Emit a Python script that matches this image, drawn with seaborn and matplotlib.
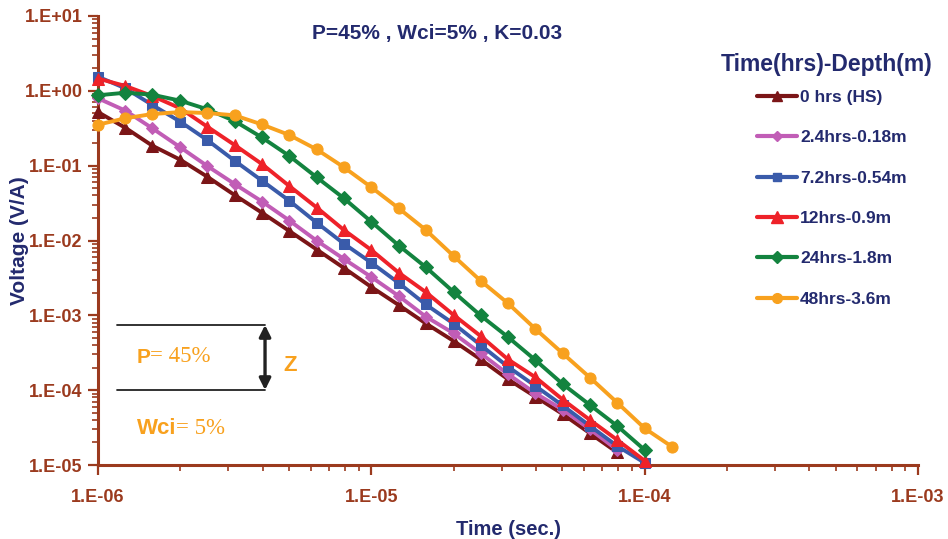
import matplotlib
matplotlib.use("Agg")
import matplotlib.pyplot as plt
import matplotlib.ticker as mticker
from matplotlib.lines import Line2D
import numpy as np
import pandas as pd
import seaborn as sns

# Sampling times (s), ten points per decade
time_s = [1.0e-6, 1.26e-6, 1.58e-6, 2.0e-6, 2.51e-6, 3.16e-6, 3.98e-6, 5.01e-6,
          6.31e-6, 7.94e-6, 1.0e-5, 1.26e-5, 1.58e-5, 2.0e-5, 2.51e-5, 3.16e-5,
          3.98e-5, 5.01e-5, 6.31e-5, 7.94e-5, 1.0e-4, 1.26e-4]

# Voltage responses (V/A) for each time-depth stage
v_0hrs = [0.52, 0.32, 0.185, 0.12, 0.0712, 0.0405, 0.0235, 0.0134, 0.00758, 0.00429,
          0.00239, 0.00137, 0.000782, 0.000454, 0.000258, 0.00014, 8.2e-5, 4.8e-5,
          2.65e-5, 1.47e-5]
v_2p4hrs = [0.795, 0.543, 0.316, 0.176, 0.099, 0.0569, 0.0332, 0.0185, 0.00994, 0.00566,
            0.00325, 0.00181, 0.000964, 0.000575, 0.000311, 0.000164, 9.1e-5, 5.5e-5,
            3.0e-5, 1.59e-5]
v_7p2hrs = [1.545, 1.08, 0.647, 0.387, 0.22, 0.1165, 0.063, 0.034, 0.0173, 0.00906,
            0.00505, 0.0027, 0.0014, 0.000773, 0.000401, 0.000206, 0.000114, 6.24e-5,
            3.32e-5, 1.79e-5, 1.07e-5]
v_12hrs = [1.46, 1.16, 0.853, 0.584, 0.332, 0.189, 0.105, 0.0535, 0.0276, 0.0138,
           0.00746, 0.00371, 0.00205, 0.00101, 0.000529, 0.000258, 0.000149, 7.5e-5,
           3.99e-5, 2.16e-5, 1.14e-5]
v_24hrs = [0.872, 0.944, 0.888, 0.738, 0.567, 0.395, 0.238, 0.135, 0.0699, 0.0366,
           0.0178, 0.00857, 0.00442, 0.00205, 0.000995, 0.000513, 0.000253, 0.000121,
           6.33e-5, 3.32e-5, 1.59e-5]
v_48hrs = [0.353, 0.43, 0.49, 0.52, 0.505, 0.471, 0.355, 0.257, 0.165, 0.0951,
           0.0514, 0.0269, 0.0139, 0.00621, 0.0029, 0.00145, 0.00066, 0.000311,
           0.000147, 6.8e-5, 3.09e-5, 1.75e-5]

series_labels = ["0 hrs (HS)", "2.4hrs-0.18m", "7.2hrs-0.54m",
                 "12hrs-0.9m", "24hrs-1.8m", "48hrs-3.6m"]
series_values = [v_0hrs, v_2p4hrs, v_7p2hrs, v_12hrs, v_24hrs, v_48hrs]
series_colors = ["#7B1517", "#C15DB6", "#3A5BAA", "#EE2229", "#13833F", "#F8A11E"]
series_markers = ["^", "D", "s", "^", "D", "o"]
series_msize = [8, 6, 7, 9, 7, 8]

# Decade tick positions
x_ticks = [1e-6, 1e-5, 1e-4, 1e-3]
y_ticks = [1e-5, 1e-4, 1e-3, 1e-2, 1e-1, 1e0, 1e1]

frames = []
for lab, vals in zip(series_labels, series_values):
    frames.append(pd.DataFrame({"Time": time_s[:len(vals)], "Voltage": vals, "Series": lab}))
df = pd.concat(frames, ignore_index=True)

sns.set_theme(style="white")
plt.rcParams["font.family"] = ["Liberation Sans", "DejaVu Sans"]

navy = "#232A6E"
brown = "#9B3A1E"
orange = "#F8A11E"

fig = plt.figure(figsize=(9.48, 5.39), dpi=100)
ax = fig.add_axes([98 / 948, 1 - 465 / 539, 820 / 948, 449 / 539])

handles = []
for lab, col, mk, ms in zip(series_labels, series_colors, series_markers, series_msize):
    sub = df[df["Series"] == lab]
    sns.lineplot(data=sub, x="Time", y="Voltage", ax=ax, color=col, marker=mk,
                 markersize=ms, markeredgecolor=col, linewidth=2.8, label=lab,
                 legend=False, zorder=3, clip_on=False)
    handles.append(Line2D([0], [0], color=col, marker=mk, markersize=ms - 1,
                          markeredgecolor=col, linewidth=3, label=lab))

ax.set_xscale("log")
ax.set_yscale("log")
ax.set_xlim(1e-6, 1e-3)
ax.set_ylim(1e-5, 1e1)

def sci_fmt(v, pos):
    e = int(round(np.log10(v)))
    return f"1.E{e:+03d}"

ax.xaxis.set_major_locator(mticker.FixedLocator(x_ticks))
ax.yaxis.set_major_locator(mticker.FixedLocator(y_ticks))
for axis in (ax.xaxis, ax.yaxis):
    axis.set_minor_locator(mticker.LogLocator(base=10, subs=np.arange(2, 10), numticks=20))
    axis.set_major_formatter(mticker.FuncFormatter(sci_fmt))
    axis.set_minor_formatter(mticker.NullFormatter())

ax.tick_params(axis="both", which="both", bottom=True, left=True, top=False, right=False)
ax.tick_params(axis="both", which="major", direction="out", length=7, width=1.6,
               color=brown, labelcolor=brown, pad=4)
ax.tick_params(axis="both", which="minor", direction="out", length=4, width=1.2,
               color=brown)
ax.tick_params(axis="x", which="major", pad=10)
for lbl in ax.get_xticklabels() + ax.get_yticklabels():
    lbl.set_fontweight("bold")
    lbl.set_family(["Liberation Sans Narrow", "Liberation Sans"])
    lbl.set_fontsize(13)

for side in ("top", "right"):
    ax.spines[side].set_visible(False)
for side in ("left", "bottom"):
    ax.spines[side].set_color(brown)
    ax.spines[side].set_linewidth(2.2)
ax.grid(False)

ax.set_xlabel("Time (sec.)", fontsize=14.5, fontweight="bold", color=navy)
ax.set_ylabel("Voltage (V/A)", fontsize=15, fontweight="bold", color=navy)
ax.xaxis.set_label_coords(0.5, -0.122)
ax.yaxis.set_label_coords(-0.084, 0.5)

ax.text(0.413, 0.962, "P=45% , Wci=5% , K=0.03", transform=ax.transAxes,
        ha="center", va="center", fontsize=15, fontweight="bold", color=navy)

# Legend with its title set separately above the entries
fig.text(827 / 948, 1 - 64 / 539, "Time(hrs)-Depth(m)", ha="center", va="center",
         fontsize=16.5, fontweight="bold", color=navy)
leg = fig.legend(handles=handles, loc="upper left", bbox_to_anchor=(757 / 948, 1 - 90 / 539),
                 frameon=False, handlelength=2.3, handletextpad=0.17, labelspacing=1.45,
                 borderpad=0, borderaxespad=0, prop={"weight": "bold", "size": 12.5})
for t in leg.get_texts():
    t.set_color(navy)

# Depth bracket annotation
y_top, y_bot = 0.3118, 0.167
x0, x1 = 0.0232, 0.2037
for yy in (y_top, y_bot):
    ax.add_line(Line2D([x0, x1], [yy, yy], transform=ax.transAxes, color="#222222",
                       linewidth=1.3, zorder=4))
ax.annotate("", xy=(x1, y_top), xytext=(x1, y_bot), xycoords="axes fraction",
            arrowprops=dict(arrowstyle="<|-|>", color="#222222", lw=2.4,
                            mutation_scale=17, shrinkA=0, shrinkB=0))
ax.text(0.2256, 0.2227, "Z", transform=ax.transAxes, ha="left", va="center",
        fontsize=16, fontweight="bold", color=orange)

tp = ax.text(0.047, 0.2405, "P", transform=ax.transAxes, ha="left", va="center",
             fontsize=15, fontweight="bold", color=orange)
ax.annotate("= 45%", xy=(1, 0), xycoords=tp, ha="left", va="bottom",
            fontsize=16.5, color=orange, family="Liberation Serif")
tw = ax.text(0.047, 0.0824, "Wci", transform=ax.transAxes, ha="left", va="center",
             fontsize=16, fontweight="bold", color=orange)
ax.annotate("= 5%", xy=(1, 0), xycoords=tw, ha="left", va="bottom",
            fontsize=16.5, color=orange, family="Liberation Serif")

fig.savefig("out.png", dpi=100)
